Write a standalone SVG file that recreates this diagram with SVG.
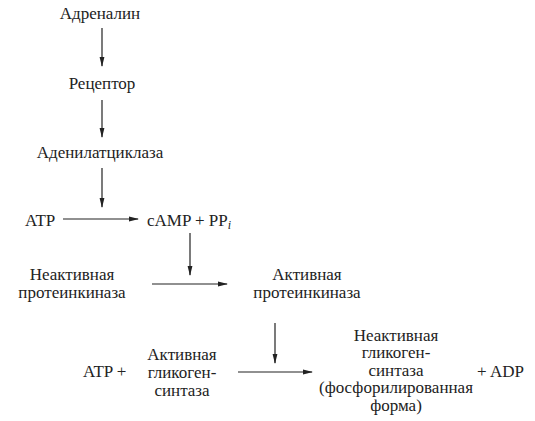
<svg xmlns="http://www.w3.org/2000/svg" width="535" height="421" viewBox="0 0 535 421">
<defs>
<marker id="ah" markerWidth="10" markerHeight="6" refX="9" refY="3" orient="auto" markerUnits="userSpaceOnUse">
<path d="M0,0.6 L10,3 L0,5.4 z" fill="#222"/>
</marker>
<style>
text{font-family:"Liberation Serif","Times New Roman",serif;font-size:17px;fill:#222;text-anchor:middle}
.m{font-size:16px}
.l{text-anchor:start}
.c line{stroke:#222;stroke-width:1.2;marker-end:url(#ah)}
</style>
</defs>
<rect width="535" height="421" fill="#fff"/>
<g id="adrenalin"><text x="100" y="19">Адреналин</text></g>
<g id="receptor"><text x="102" y="89">Рецептор</text></g>
<g id="adenylatecyclase"><text x="100" y="158">Аденилатциклаза</text></g>
<g id="atp1"><text class="l" x="25" y="226">ATP</text></g>
<g id="camp"><text class="l" x="147" y="226">cAMP + PP<tspan font-style="italic" font-size="12" dy="3">i</tspan></text></g>
<g id="inactive-pk" class="m"><text x="72" y="279.5">Неактивная</text><text x="72" y="297.5">протеинкиназа</text></g>
<g id="active-pk" class="m"><text x="307" y="279.5">Активная</text><text x="307" y="297.5">протеинкиназа</text></g>
<g id="atp2"><text class="l" x="83" y="377">ATP +</text></g>
<g id="active-gs" class="m"><text x="182" y="359.5">Активная</text><text x="182" y="377.5">гликоген-</text><text x="182" y="395.5">синтаза</text></g>
<g id="inactive-gs" class="m"><text x="396" y="340.5">Неактивная</text><text x="396" y="358">гликоген-</text><text x="396" y="375.5">синтаза</text><text x="396" y="393">(фосфорилированная</text><text x="396" y="410.5">форма)</text></g>
<g id="adp"><text class="l" x="477" y="377">+ ADP</text></g>
<g class="c" id="connectors">
<line x1="102" y1="28" x2="102" y2="66"/>
<line x1="102" y1="100" x2="102" y2="137"/>
<line x1="102" y1="168" x2="102" y2="207"/>
<line x1="63" y1="219" x2="138" y2="219"/>
<line x1="190" y1="233" x2="190" y2="275"/>
<line x1="152" y1="284" x2="227" y2="284"/>
<line x1="275" y1="323" x2="275" y2="363"/>
<line x1="238" y1="372" x2="312" y2="372"/>
</g>
</svg>
